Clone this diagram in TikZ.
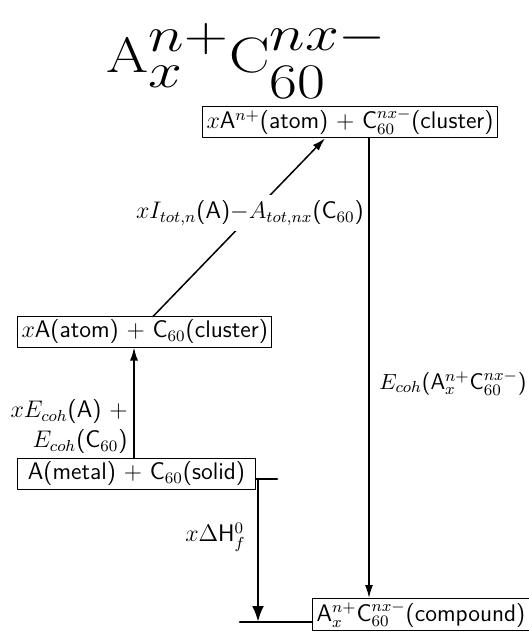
\documentclass[tikz,border=0pt]{standalone}
\usepackage{amsmath}
\usepackage{amssymb}
\usetikzlibrary{arrows.meta}

\begin{document}
\begin{tikzpicture}[
	x=0.5pt, y=-0.5pt,
	every node/.style={font=\sffamily\fontsize{12}{15}\selectfont},
	line cap=round,
	line join=round,
	statebox/.style={draw, line width=0.5pt, inner xsep=2pt, inner ysep=1.5pt},
	arr/.style={line width=0.75pt, -{Latex[length=6.5pt,width=4pt]}},
	thickarr/.style={line width=1.4pt, -{Latex[length=8pt,width=6pt]}},
	levelbar/.style={line width=1.4pt}
	]
	
	\useasboundingbox (0,0) rectangle (529,632);
	
	% Title
	\node[anchor=base, font=\fontsize{35}{40}\selectfont] (title) at (247,72)
		{\scalebox{1.22}[1]{$\mathrm{A}_x^{n+}\mathrm{C}_{60}^{nx-}$}};
	
	% States
	\node[statebox, anchor=west] (ion) at (202,122)
		{$x$A$^{n+}$(atom) $+$ C$_{60}^{nx-}$(cluster)};
	\node[statebox, anchor=west] (atom) at (17,332)
		{$x$A(atom) $+$ C$_{60}$(cluster)};
	\node[statebox, anchor=west, minimum width=119pt] (solid) at (17,474)
		{A(metal) $+$ C$_{60}$(solid)};
	\node[statebox, anchor=north west, inner xsep=6pt] (comp) at (312,598)
		{\hspace*{-4pt}A$_x^{n+}$C$_{60}^{nx-}$(compound)};
	
	% Columns of the arrows
	\coordinate (colL) at (134,0);
	\coordinate (colM) at (258,0);
	\coordinate (colR) at (369,0);
	\coordinate (diagA) at (153,0);
	\coordinate (diagB) at (325,0);
	\coordinate (bar1) at (277,479);
	\coordinate (bar2) at (240,622);
	
	% Arrows
	\draw[arr] (solid.north -| colL) -- (atom.south -| colL);
	\draw[arr] (atom.north -| diagA) -- (ion.south -| diagB);
	\draw[arr] (ion.south -| colR) -- (comp.north -| colR);
	
	% Energy levels
	\draw[levelbar] (solid.east |- bar1) -- (bar1);
	\draw[levelbar] (bar2) -- (bar2 -| comp.west);
	\draw[thickarr] (colM |- bar1) -- (colM |- bar2);
	
	% Labels
	\node[fill=white, inner xsep=1pt, inner ysep=3pt] (lbion) at (250,213)
		{$xI_{tot,n}$(A)${-}A_{tot,nx}$(C$_{60}$)};
	\node[anchor=east, align=right, inner sep=0pt] (lbcoh) at (128,427)
		{$xE_{coh}$(A) $+$\\$E_{coh}$(C$_{60}$)};
	\node[anchor=east, inner sep=0pt] (lbform) at (246,537) {$x\Delta$H$_f^0$};
	\node[anchor=west, inner sep=0pt, font=\sffamily\fontsize{11.3}{14}\selectfont] (lbcomp) at (379,383)
		{$E_{coh}$(A$_x^{n+}$C$_{60}^{nx-}$)};
	
\end{tikzpicture}
\end{document}
